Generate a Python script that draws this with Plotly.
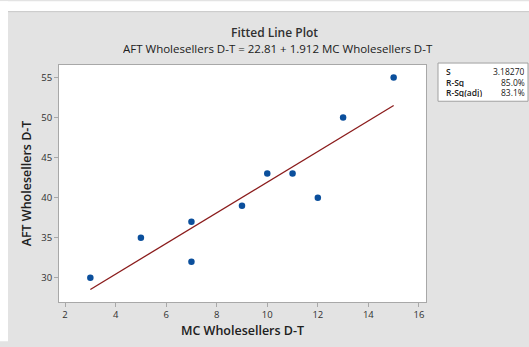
import plotly.graph_objects as go

mc = [3, 5, 7, 7, 9, 10, 11, 12, 13, 15]
aft = [30, 35, 37, 32, 39, 43, 43, 40, 50, 55]
intercept = 22.81
slope = 1.912
stat_labels = ["S", "R-Sq", "R-Sq(adj)"]
stat_values = ["3.18270", "85.0%", "83.1%"]
x_ticks = [2, 4, 6, 8, 10, 12, 14, 16]
y_ticks = [30, 35, 40, 45, 50, 55]

W, H = 529, 347
L, R, T, B = 59, 426, 65, 307
pw, ph = R - L, B - T

def px(x):
    return (x - L) / pw

def py(y):
    return (B - y) / ph

FONT = "Open Sans"
fig = go.Figure()
fit_x = [min(mc), max(mc)]
fit_y = [intercept + slope * v for v in fit_x]
fig.add_trace(go.Scatter(x=fit_x, y=fit_y, mode="lines",
                         line=dict(color="#8b1c1c", width=1.3), showlegend=False))
fig.add_trace(go.Scatter(x=mc, y=aft, mode="markers",
                         marker=dict(color="#0b4f9c", size=6.5), showlegend=False))

shapes = [
    dict(type="rect", xref="paper", yref="paper", x0=px(0), x1=px(W), y0=py(10), y1=py(0),
         fillcolor="white", line=dict(width=0), layer="below"),
    dict(type="rect", xref="paper", yref="paper", x0=px(0), x1=px(8), y0=py(H), y1=py(0),
         fillcolor="white", line=dict(width=0), layer="below"),
    dict(type="line", xref="paper", yref="paper", x0=px(8), x1=px(W), y0=py(10.5), y1=py(10.5),
         line=dict(color="#c8c8c8", width=1)),
    dict(type="rect", xref="paper", yref="paper", x0=px(438), x1=px(528), y0=py(102), y1=py(63),
         fillcolor="white", line=dict(color="#a0a0a0", width=1)),
]

annotations = [
    dict(text="Fitted Line Plot", x=px(274), y=py(32), xref="paper", yref="paper",
         showarrow=False, xanchor="center", yanchor="middle", height=13,
         font=dict(family=FONT, size=12, color="#303030", weight=600)),
    dict(text="AFT Wholesellers D-T = 22.81 + 1.912 MC Wholesellers D-T", x=px(278), y=py(48),
         xref="paper", yref="paper", showarrow=False, xanchor="center", yanchor="middle",
         height=13, font=dict(family=FONT, size=11.5, color="#202020", weight=500)),
]
for i, (lab, val) in enumerate(zip(stat_labels, stat_values)):
    yy = py(71 + 11 * i)
    annotations.append(dict(text=lab, x=px(444), y=yy, xref="paper", yref="paper",
                            showarrow=False, xanchor="left", yanchor="middle", height=10,
                            font=dict(family=FONT, size=8.5, color="#202020", weight=600)))
    annotations.append(dict(text=val, x=px(527), y=yy, xref="paper", yref="paper",
                            showarrow=False, xanchor="right", yanchor="middle", height=10,
                            font=dict(family=FONT, size=8.5, color="#202020")))

axis_common = dict(showgrid=False, zeroline=False, showline=True, linecolor="#a8a8a8",
                   linewidth=1, mirror=True, ticks="outside", ticklen=4, tickcolor="#a8a8a8",
                   tickfont=dict(family=FONT, size=9.5, color="#303030"))

fig.update_layout(
    width=W, height=H,
    margin=dict(l=L, r=W - R, t=T, b=H - B, pad=0),
    paper_bgcolor="#e3e3e3", plot_bgcolor="white",
    shapes=shapes, annotations=annotations,
    xaxis=dict(range=[1.76, 16.28], tickvals=x_ticks,
               title=dict(text="MC Wholesellers D-T", standoff=5,
                          font=dict(family=FONT, size=12.5, color="#202020", weight=600)),
               **axis_common),
    yaxis=dict(range=[26.98, 56.55], tickvals=y_ticks,
               title=dict(text="AFT Wholesellers D-T", standoff=6,
                          font=dict(family=FONT, size=12.5, color="#202020", weight=600)),
               **axis_common),
)

fig.write_html("out.html")
